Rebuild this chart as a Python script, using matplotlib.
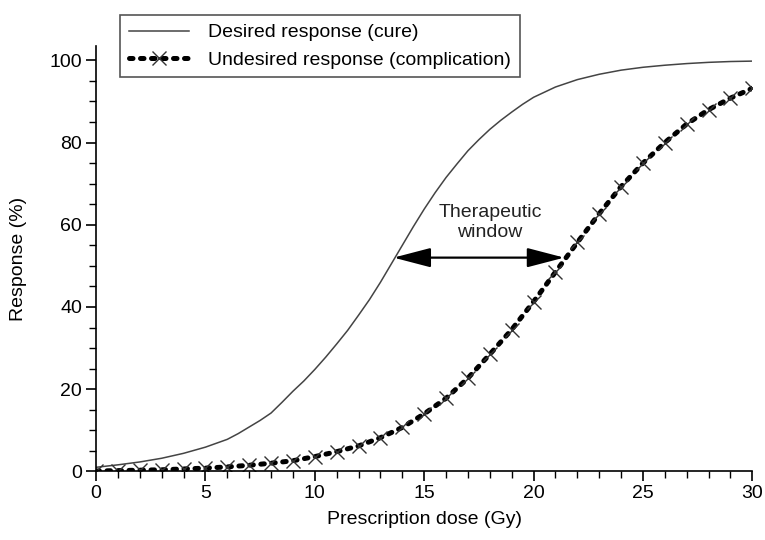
import matplotlib
matplotlib.use('Agg')
import matplotlib.pyplot as plt
from matplotlib.ticker import MultipleLocator

plt.rcParams['font.family'] = ['Liberation Sans', 'DejaVu Sans']

# desired response (cure), read at half-Gy steps where the curve bends
cure_dose = [0, 1, 2, 3, 4, 5, 6, 6.5, 7, 7.5, 8, 8.5, 9, 9.5, 10, 10.5,
             11, 11.5, 12, 12.5, 13, 13.5, 14, 14.5, 15, 15.5, 16, 16.5,
             17, 17.5, 18, 18.5, 19, 19.5, 20, 21, 22, 23, 24, 25, 26, 27,
             28, 29, 30]
cure = [1.0, 1.6, 2.3, 3.2, 4.4, 5.9, 7.8, 9.2, 10.8, 12.4, 14.2, 16.8,
        19.5, 22.0, 24.8, 27.8, 31.0, 34.3, 38.0, 41.8, 46.0, 50.5, 55.0,
        59.5, 63.8, 67.8, 71.5, 74.8, 78.0, 80.7, 83.2, 85.4, 87.4, 89.3,
        91.0, 93.5, 95.3, 96.6, 97.6, 98.3, 98.8, 99.2, 99.5, 99.7, 99.8]

# undesired response (complication), one point per Gy
dose = list(range(0, 31))
compl = [0.1, 0.2, 0.3, 0.4, 0.6, 0.8, 1.1, 1.5, 2.0, 2.6,
         3.6, 4.8, 6.2, 8.2, 10.7, 14.0, 17.8, 22.7, 28.5, 34.5,
         41.3, 48.5, 55.7, 62.7, 69.3, 75.0, 80.0, 84.5, 88.0, 90.8, 93.2]

# therapeutic window arrow (dose at left / right end, response level)
window_left = 13.6
window_right = 21.4
window_level = 52

fig = plt.figure(figsize=(7.65, 5.4), dpi=100)
ax = fig.add_axes([0.1255, 0.127, 0.858, 0.788])

ax.plot(cure_dose, cure, color='#444444', lw=1.1, label='Desired response (cure)')
ax.plot(dose, compl, color='black', lw=3.6, dashes=(0.7, 1.5),
        dash_capstyle='round', marker='x', markersize=10, markeredgewidth=1.0,
        markeredgecolor='#333333', label='Undesired response (complication)')

ax.annotate('', xy=(window_left, window_level), xytext=(window_right, window_level),
            arrowprops=dict(arrowstyle='<|-|>,head_length=2.3,head_width=0.6',
                            color='black', lw=1.6, shrinkA=0, shrinkB=0))
ax.text(18.0, 60.6, 'Therapeutic\nwindow', ha='center', va='center',
        fontsize=14, color='#222222', linespacing=1.2)

ax.set_xlim(0, 30)
ax.set_ylim(0, 103.5)
ax.xaxis.set_major_locator(MultipleLocator(5))
ax.xaxis.set_minor_locator(MultipleLocator(1))
ax.yaxis.set_major_locator(MultipleLocator(20))
ax.yaxis.set_minor_locator(MultipleLocator(5))
ax.tick_params(which='major', length=7, width=1.2, labelsize=14, pad=3)
ax.tick_params(which='minor', length=5, width=1.0)
for side in ['top', 'right']:
    ax.spines[side].set_visible(False)
for side in ['left', 'bottom']:
    ax.spines[side].set_linewidth(1.2)

ax.set_xlabel('Prescription dose (Gy)', fontsize=14, labelpad=6)
ax.set_ylabel('Response (%)', fontsize=14)
ax.yaxis.set_label_coords(-0.105, 0.5)

leg = ax.legend(loc='upper left', bbox_to_anchor=(120 / 765, 1 - 15 / 540),
                bbox_transform=fig.transFigure, borderaxespad=0, fancybox=False,
                framealpha=1, edgecolor='#555555', fontsize=14, handlelength=3.1,
                numpoints=1, borderpad=0.45, labelspacing=0.5, handletextpad=1.0)
leg.get_frame().set_linewidth(1.2)

fig.savefig('out.png', dpi=100)
